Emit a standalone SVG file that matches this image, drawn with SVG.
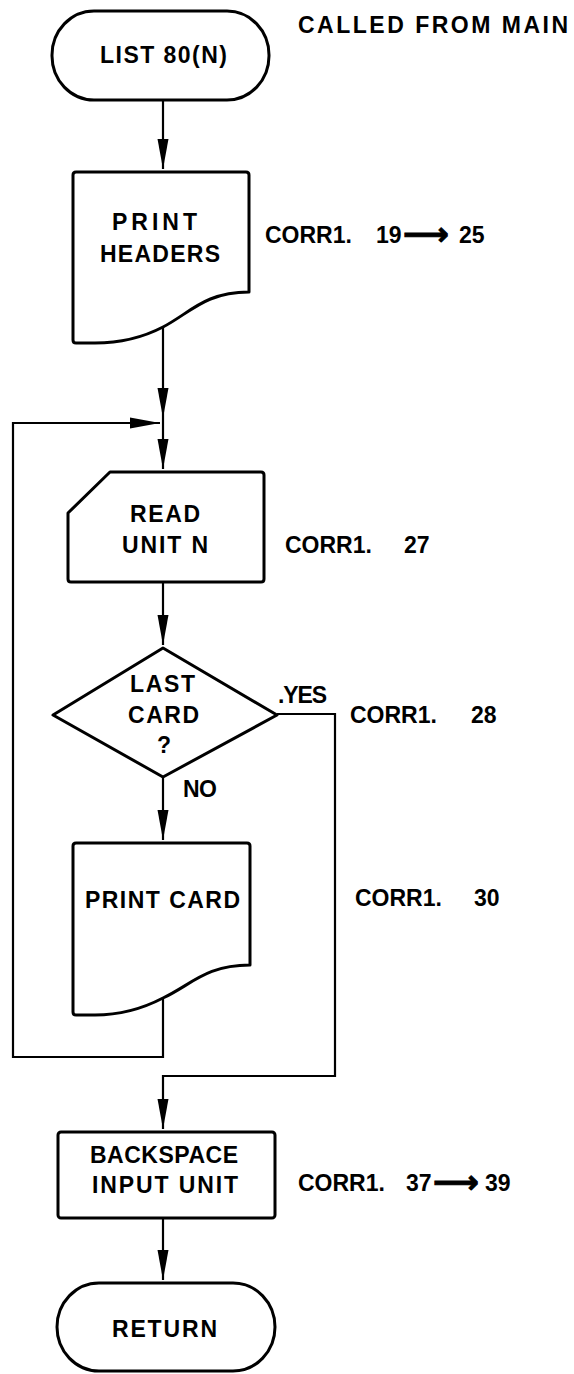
<svg xmlns="http://www.w3.org/2000/svg" width="574" height="1374" viewBox="0 0 574 1374">
<style>
.shape{fill:#fff;stroke:#000;stroke-width:3;stroke-linejoin:round}
.conn{fill:none;stroke:#000;stroke-width:2.2;stroke-linejoin:miter}
.t{font-family:"Liberation Sans",Arial,Helvetica,sans-serif;font-size:23px;font-weight:bold;fill:#000}
.ar{font-family:"DejaVu Sans","Liberation Sans",sans-serif;font-size:32px;font-weight:bold;stroke:#000;stroke-width:1}
</style>
<defs>
<marker id="ah" markerUnits="userSpaceOnUse" markerWidth="30" markerHeight="12" viewBox="0 0 30 12" refX="30" refY="6" orient="auto">
<path d="M0,0.5 L30,6 L0,11.5 Z" fill="#000"/>
</marker>
</defs>
<rect width="574" height="1374" fill="#fff"/>

<g id="connectors">
<path class="conn" d="M163,100 V169" marker-end="url(#ah)"/>
<path class="conn" d="M163,327 V418" marker-end="url(#ah)"/>
<path class="conn" d="M163,418 V469" marker-end="url(#ah)"/>
<path class="conn" d="M163,582 V645" marker-end="url(#ah)"/>
<path class="conn" d="M163,777 V840" marker-end="url(#ah)"/>
<path class="conn" d="M163,998 V1057 H13 V423 H160" marker-end="url(#ah)"/>
<path class="conn" d="M277,714 H335 V1076 H163 V1129" marker-end="url(#ah)"/>
<path class="conn" d="M163,1218 V1280" marker-end="url(#ah)"/>
</g>

<g id="start">
<rect class="shape" x="52" y="11" width="217" height="89" rx="42" ry="44"/>
<text class="t" x="100" y="63" textLength="127" lengthAdjust="spacing">LIST 80(N)</text>
</g>
<g id="called-note">
<text class="t" x="298" y="33" textLength="270" lengthAdjust="spacing">CALLED FROM MAIN</text>
</g>

<g id="print-headers">
<path class="shape" d="M73,175 Q73,172 76,172 H246 Q249,172 249,175 V292 C205,292 190,313 163,327 C140,339 118,343 95,343 H76 Q73,343 73,340 Z"/>
<text class="t" x="112" y="230" textLength="85" lengthAdjust="spacing">PRINT</text>
<text class="t" x="100" y="262" textLength="120" lengthAdjust="spacing">HEADERS</text>
</g>
<g id="note-19-25">
<text class="t" y="243"><tspan x="265">CORR1.</tspan><tspan x="376">19</tspan><tspan class="ar" x="403" y="245">⟶</tspan><tspan x="459" y="243">25</tspan></text>
</g>

<g id="read-unit">
<path class="shape" d="M110,472 H261 Q264,472 264,475 V579 Q264,582 261,582 H71 Q68,582 68,579 V513 Z"/>
<text class="t" x="130" y="522" textLength="70" lengthAdjust="spacing">READ</text>
<text class="t" x="122" y="553" textLength="86" lengthAdjust="spacing">UNIT N</text>
</g>
<g id="note-27">
<text class="t" y="553"><tspan x="285">CORR1.</tspan><tspan x="404">27</tspan></text>
</g>

<g id="last-card">
<polygon class="shape" points="163,648 277,715 163,777 53,715"/>
<text class="t" x="130" y="692" textLength="65" lengthAdjust="spacing">LAST</text>
<text class="t" x="128" y="723" textLength="71" lengthAdjust="spacing">CARD</text>
<text class="t" x="157" y="753">?</text>
<text class="t" x="278" y="703" textLength="49" lengthAdjust="spacing">.YES</text>
<text class="t" x="183" y="797" textLength="34" lengthAdjust="spacing">NO</text>
</g>
<g id="note-28">
<text class="t" y="723"><tspan x="350">CORR1.</tspan><tspan x="471">28</tspan></text>
</g>

<g id="print-card">
<path class="shape" d="M73,846 Q73,843 76,843 H247 Q250,843 250,846 V965 C206,965 191,985 163,998 C140,1010 118,1015 95,1015 H76 Q73,1015 73,1012 Z"/>
<text class="t" x="85" y="908" textLength="155" lengthAdjust="spacing">PRINT CARD</text>
</g>
<g id="note-30">
<text class="t" y="906"><tspan x="355">CORR1.</tspan><tspan x="474">30</tspan></text>
</g>

<g id="backspace">
<rect class="shape" x="58" y="1132" width="217" height="86" rx="3"/>
<text class="t" x="90" y="1163" textLength="148" lengthAdjust="spacing">BACKSPACE</text>
<text class="t" x="92" y="1193" textLength="146" lengthAdjust="spacing">INPUT UNIT</text>
</g>
<g id="note-37-39">
<text class="t" y="1191"><tspan x="298">CORR1.</tspan><tspan x="406">37</tspan><tspan class="ar" x="433" y="1193">⟶</tspan><tspan x="485" y="1191">39</tspan></text>
</g>

<g id="return">
<rect class="shape" x="57" y="1283" width="218" height="88" rx="42" ry="44"/>
<text class="t" x="112" y="1337" textLength="105" lengthAdjust="spacing">RETURN</text>
</g>
</svg>
